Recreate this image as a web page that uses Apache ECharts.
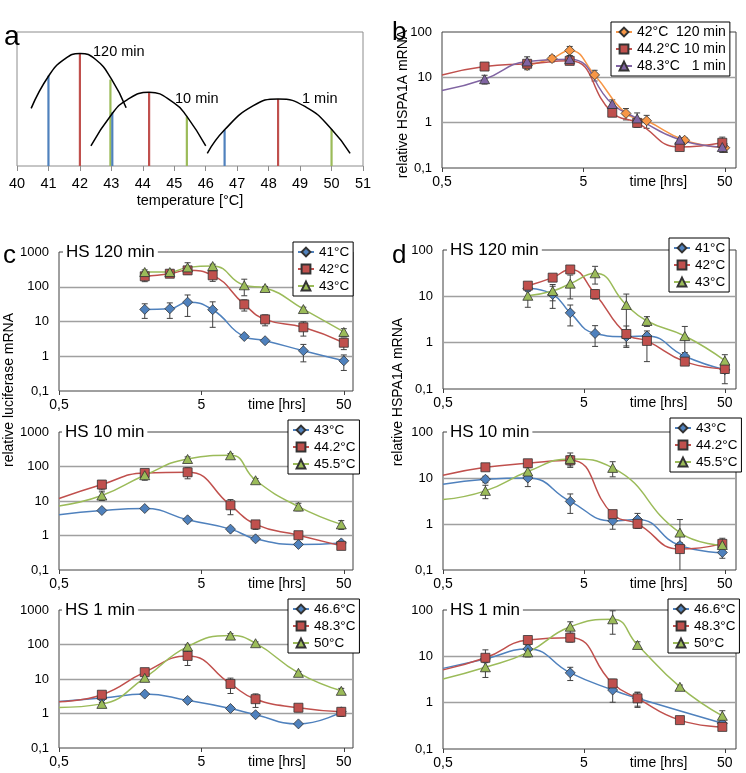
<!DOCTYPE html>
<html><head><meta charset="utf-8">
<script src="https://cdn.jsdelivr.net/npm/echarts@6/dist/echarts.min.js"></script>
<style>html,body{margin:0;padding:0;background:#fff}#c{width:746px;height:773px}</style>
</head><body><div id="c"></div>
<script>
// ---------- Panel a : schematic temperature curves ----------
const aCurve120X = [40.45, 41, 41.5, 42, 42.5, 43, 43.47];
const aCurve120Y = [0.43, 0.67, 0.795, 0.84, 0.795, 0.65, 0.435];
const aCurve10X = [42.35, 43, 43.5, 44.2, 45, 45.4, 46];
const aCurve10Y = [0.15, 0.383, 0.494, 0.55, 0.47, 0.37, 0.15];
const aCurve1X = [46.05, 46.6, 47.5, 48.3, 49.2, 50, 50.59];
const aCurve1Y = [0.095, 0.27, 0.448, 0.5, 0.438, 0.275, 0.095];
const aLineTemp = [41, 42, 42.97, 43.03, 44.2, 45.4, 46.6, 48.3, 50];
const aLineTop = [0.674, 0.84, 0.645, 0.40, 0.55, 0.37, 0.27, 0.5, 0.275];
const aLineKind = [0, 1, 2, 0, 1, 2, 0, 1, 2];
const aTicks = [40, 51];

// ---------- Time points (hours) ----------
const t120 = [2, 3, 4, 6, 10, 14, 26, 50];
const tShort = [1, 2, 4, 8, 12, 24, 48];
const tShortNo12 = [1, 2, 4, 8, 24, 48];
const tShortNo24 = [1, 2, 4, 8, 12, 48];
const xTickLabels = ['0,5', '5', '50', 'time [hrs]'];

// ---------- Panel b : HSPA1A ----------
const b42 = [18.2, 26, 39, 11.3, 1.6, 1.1, 0.41, 0.28];
const b42Err = [3.5, 4, 9, 3, 0.45, 0.35, 0.05, 0.06];
const b44 = [17.3, 19.9, 23.1, 1.66, 0.99, 0.29, 0.36];
const b44Err = [3, 3, 4, 0.3, 0.2, 0.03, 0.12];
const b48 = [9.1, 22.4, 25.2, 2.58, 1.24, 0.42, 0.29];
const b48Err = [2, 6, 5, 0.6, 0.4, 0.04, 0.07];
const bEdge = [11.3, 5.1];

// ---------- Panel c : luciferase ----------
const c41 = [22.3, 23.3, 36, 21.8, 3.7, 2.8, 1.44, 0.74];
const c41Err = [10, 11, 22, 15, 0.4, 0.3, 0.75, 0.35];
const c42 = [200, 237, 296, 213, 31, 11.5, 6.8, 2.45];
const c42Err = [60, 50, 65, 70, 11, 4, 3, 0.9];
const c43 = [265, 265, 361, 395, 110, 92, 22.8, 5.0];
const c43Err = [40, 40, 130, 50, 55, 10, 3, 1.2];

const c43m = [5.3, 6.05, 2.85, 1.53, 0.80, 0.55, 0.61];
const c43mErr = [0.5, 0.6, 0.3, 0.2, 0.1, 0.05, 0.05];
const c44m = [30, 65, 68, 7.5, 2.1, 1.02, 0.50];
const c44mErr = [9, 14, 24, 3.5, 0.6, 0.1, 0.05];
const c45m = [14.4, 56, 165, 211, 40, 6.9, 2.1];
const c45mErr = [4, 16, 25, 25, 5, 1.7, 0.6];
const cMidEdge = [4.0, 11.8, 7.2];

const c466 = [2.8, 3.65, 2.4, 1.40, 0.92, 0.50, 1.12];
const c466Err = [0.3, 0.3, 0.2, 0.15, 0.1, 0.05, 0.2];
const c483 = [3.5, 15.8, 46.6, 7.2, 2.6, 1.47, 1.12];
const c483Err = [0.7, 3, 22, 3.4, 1.1, 0.35, 0.3];
const c50 = [1.9, 10.8, 87, 181, 109, 15.1, 4.55];
const c50Err = [0.2, 2, 10, 25, 10, 1.5, 0.8];
const cBotEdge = [2.24, 2.2, 1.5];

// ---------- Panel d : HSPA1A ----------
const d41 = [14.9, 11.0, 4.4, 1.58, 1.35, 1.39, 0.51, 0.26];
const d41Err = [2, 5.5, 2.1, 0.75, 0.5, 0.2, 0.1, 0.13];
const d42 = [17, 25.3, 38, 11.2, 1.54, 1.09, 0.39, 0.27];
const d42Err = [2, 3, 5, 2.5, 0.75, 0.7, 0.05, 0.05];
const d43 = [10.3, 13, 18.8, 31.4, 6.5, 2.94, 1.39, 0.41];
const d43Err = [4.5, 5, 10, 13, 4.7, 0.7, 0.85, 0.14];

const d43m = [9.4, 10, 3.1, 1.17, 1.25, 0.34, 0.24];
const d43mErr = [1.5, 3.5, 1.4, 0.4, 0.45, 0.05, 0.06];
const d44m = [17.1, 20.9, 24.3, 1.64, 1.01, 0.285, 0.37];
const d44mErr = [2, 2, 6, 0.3, 0.15, 0.04, 0.12];
const d45m = [5.25, 13.8, 26, 16.6, 0.65, 0.35];
const d45mErr = [1.7, 3, 9, 6, 0.6, 0.05];
const dMidEdge = [7.3, 11.5, 3.4];

const d466 = [8.8, 14.4, 4.4, 1.87, 1.24, 0.36];
const d466Err = [1.5, 3, 1.4, 0.85, 0.45, 0.03];
const d483 = [9.3, 22.5, 25.3, 2.6, 1.24, 0.42, 0.30];
const d483Err = [4.5, 3, 5, 0.6, 0.4, 0.03, 0.03];
const d50 = [5.8, 12.2, 43.6, 63, 17.6, 2.2, 0.52];
const d50Err = [2.3, 2.5, 12, 33, 3, 0.2, 0.15];
const dBotEdge = [5.5, 5.1, 3.25];

// ---------- styles ----------
const COL = {blue: '#4F81BD', red: '#C0504D', green: '#9BBB59', orange: '#F79646', purple: '#8064A2'};
const FONT = 'Liberation Sans, Arial, sans-serif';
const TIME_POS = 1.53;

const grids = [], xAxes = [], yAxes = [], series = [], legends = [], graphics = [];

// Panel a
grids.push({left: 17, top: 32, width: 346, height: 134, show: true, borderColor: '#8c8c8c', borderWidth: 1});
xAxes.push({gridIndex: 0, type: 'value', min: aTicks[0], max: aTicks[1], interval: 1,
  axisLine: {show: false}, splitLine: {show: false},
  axisTick: {show: true, length: 5, lineStyle: {color: '#8c8c8c'}},
  axisLabel: {fontSize: 14.5, color: '#000', margin: 10},
  name: 'temperature [°C]', nameLocation: 'middle', nameGap: 27,
  nameTextStyle: {fontSize: 14.5, color: '#000'}});
yAxes.push({gridIndex: 0, type: 'value', min: 0, max: 1, show: false});
[[aCurve120X, aCurve120Y], [aCurve10X, aCurve10Y], [aCurve1X, aCurve1Y]].forEach(([xs, ys]) => {
  series.push({type: 'line', xAxisIndex: 0, yAxisIndex: 0, data: xs.map((x, i) => [x, ys[i]]),
    smooth: 0.5, symbol: 'none', lineStyle: {color: '#000', width: 1.5}, z: 3, silent: true});
});
series.push({type: 'custom', xAxisIndex: 0, yAxisIndex: 0, z: 2, silent: true,
  data: aLineTemp.map((x, i) => [x, aLineTop[i], aLineKind[i]]),
  renderItem: (p, api) => {
    const a = api.coord([api.value(0), 0]), b = api.coord([api.value(0), api.value(1)]);
    return {type: 'line', shape: {x1: a[0], y1: a[1], x2: b[0], y2: b[1]},
      style: {stroke: [COL.blue, COL.red, COL.green][api.value(2)], lineWidth: 2.2}};
  }});

function fmtX(v) {
  if (Math.abs(v) < 1e-6) return xTickLabels[0];
  if (Math.abs(v - 1) < 1e-6) return xTickLabels[1];
  if (Math.abs(v - 2) < 1e-6) return xTickLabels[2];
  return xTickLabels[3];
}
function fmtY(v) {
  const r = Math.round(v * 1000) / 1000;
  return String(r).replace('.', ',');
}

function logPanel(box, ymax, xmax) {
  const g = grids.length;
  grids.push({left: box[0], top: box[1], width: box[2], height: box[3], show: true, borderColor: '#404040', borderWidth: 1});
  const xi = xAxes.length;
  xAxes.push({gridIndex: g, type: 'log', logBase: 10, min: 0.5, max: xmax, position: 'top', show: false});
  xAxes.push({gridIndex: g, type: 'value', min: 0, max: Math.log10(xmax / 0.5), position: 'bottom',
    axisLine: {show: false}, splitLine: {show: false},
    axisTick: {show: true, length: 4, customValues: [0, 1, 2], lineStyle: {color: '#404040'}},
    axisLabel: {customValues: [0, 1, TIME_POS, 2], formatter: fmtX, fontSize: 14, color: '#000', margin: 7}});
  const yi = yAxes.length;
  yAxes.push({gridIndex: g, type: 'log', logBase: 10, min: 0.1, max: ymax,
    axisLine: {show: false}, axisTick: {show: false},
    splitLine: {show: true, showMinLine: false, showMaxLine: false, lineStyle: {color: '#a0a0a0', width: 1.3}},
    axisLabel: {fontSize: 13, color: '#000', margin: 10, formatter: fmtY}});
  return {xi, yi};
}

const SYM = {
  diamond: {symbol: 'diamond', size: 10},
  rect: {symbol: 'rect', size: 9},
  triangle: {symbol: 'triangle', size: [10, 9]}
};

function addSeries(name, ax, ts, vs, errs, color, sym, edge) {
  const data = ts.map((t, i) => [t, vs[i]]);
  if (edge != null) data.unshift({value: [0.5, edge], symbol: 'none'});
  series.push({type: 'line', name, xAxisIndex: ax.xi, yAxisIndex: ax.yi, data, smooth: 0.5,
    symbol: SYM[sym].symbol, symbolSize: SYM[sym].size, showAllSymbol: true,
    lineStyle: {color, width: 1.5}, itemStyle: {color, borderColor: '#333', borderWidth: 0.8},
    z: 3, silent: true});
  series.push({type: 'custom', xAxisIndex: ax.xi, yAxisIndex: ax.yi, z: 2, silent: true, clip: true,
    data: ts.map((t, i) => [t, vs[i], errs[i]]),
    renderItem: (p, api) => {
      const t = api.value(0), v = api.value(1), e = api.value(2);
      if (!e) return;
      const lo = Math.max(v - e, v * 0.05);
      const p1 = api.coord([t, v + e]), p2 = api.coord([t, lo]);
      const w = 3, st = {stroke: '#404040', lineWidth: 1};
      return {type: 'group', children: [
        {type: 'line', shape: {x1: p1[0], y1: p1[1], x2: p2[0], y2: p2[1]}, style: st},
        {type: 'line', shape: {x1: p1[0] - w, y1: p1[1], x2: p1[0] + w, y2: p1[1]}, style: st},
        {type: 'line', shape: {x1: p2[0] - w, y1: p2[1], x2: p2[0] + w, y2: p2[1]}, style: st}
      ]};
    }});
}

function addLegend(names, left, top, fs) {
  legends.push({orient: 'vertical', left, top, data: names, formatter: n => n.split('|')[1],
    itemWidth: 16, itemHeight: 11, itemGap: 3, padding: [3, 4], backgroundColor: '#fff',
    borderColor: '#000', borderWidth: 1, borderRadius: 0, selectedMode: false, z: 10,
    textStyle: {fontSize: fs || 13.5, color: '#000', fontFamily: FONT}});
}

// Panel b
let ax = logPanel([442, 32, 294, 136], 100, 60);
addSeries('b|42°C  120 min', ax, t120, b42, b42Err, COL.orange, 'diamond');
addSeries('b|44.2°C 10 min', ax, tShort, b44, b44Err, COL.red, 'rect', bEdge[0]);
addSeries('b|48.3°C   1 min', ax, tShort, b48, b48Err, COL.purple, 'triangle', bEdge[1]);
addLegend(['b|42°C  120 min', 'b|44.2°C 10 min', 'b|48.3°C   1 min'], 611, 22, 14);

// Panel c top
ax = logPanel([59, 252, 294, 139], 1000, 58);
addSeries('ct|41°C', ax, t120, c41, c41Err, COL.blue, 'diamond');
addSeries('ct|42°C', ax, t120, c42, c42Err, COL.red, 'rect');
addSeries('ct|43°C', ax, t120, c43, c43Err, COL.green, 'triangle');
addLegend(['ct|41°C', 'ct|42°C', 'ct|43°C'], 293, 242);

// Panel c middle
ax = logPanel([59, 432, 294, 138], 1000, 58);
addSeries('cm|43°C', ax, tShort, c43m, c43mErr, COL.blue, 'diamond', cMidEdge[0]);
addSeries('cm|44.2°C', ax, tShort, c44m, c44mErr, COL.red, 'rect', cMidEdge[1]);
addSeries('cm|45.5°C', ax, tShort, c45m, c45mErr, COL.green, 'triangle', cMidEdge[2]);
addLegend(['cm|43°C', 'cm|44.2°C', 'cm|45.5°C'], 288, 420);

// Panel c bottom
ax = logPanel([59, 610, 294, 138], 1000, 58);
addSeries('cb|46.6°C', ax, tShort, c466, c466Err, COL.blue, 'diamond', cBotEdge[0]);
addSeries('cb|48.3°C', ax, tShort, c483, c483Err, COL.red, 'rect', cBotEdge[1]);
addSeries('cb|50°C', ax, tShort, c50, c50Err, COL.green, 'triangle', cBotEdge[2]);
addLegend(['cb|46.6°C', 'cb|48.3°C', 'cb|50°C'], 288, 599);

// Panel d top
ax = logPanel([443, 250, 293, 139], 100, 60);
addSeries('dt|41°C', ax, t120, d41, d41Err, COL.blue, 'diamond');
addSeries('dt|42°C', ax, t120, d42, d42Err, COL.red, 'rect');
addSeries('dt|43°C', ax, t120, d43, d43Err, COL.green, 'triangle');
addLegend(['dt|41°C', 'dt|42°C', 'dt|43°C'], 669, 238);

// Panel d middle
ax = logPanel([443, 432, 293, 138], 100, 60);
addSeries('dm|43°C', ax, tShort, d43m, d43mErr, COL.blue, 'diamond', dMidEdge[0]);
addSeries('dm|44.2°C', ax, tShort, d44m, d44mErr, COL.red, 'rect', dMidEdge[1]);
addSeries('dm|45.5°C', ax, tShortNo12, d45m, d45mErr, COL.green, 'triangle', dMidEdge[2]);
addLegend(['dm|43°C', 'dm|44.2°C', 'dm|45.5°C'], 670, 418);

// Panel d bottom
ax = logPanel([443, 610, 293, 139], 100, 60);
addSeries('db|46.6°C', ax, tShortNo24, d466, d466Err, COL.blue, 'diamond', dBotEdge[0]);
addSeries('db|48.3°C', ax, tShort, d483, d483Err, COL.red, 'rect', dBotEdge[1]);
addSeries('db|50°C', ax, tShort, d50, d50Err, COL.green, 'triangle', dBotEdge[2]);
addLegend(['db|46.6°C', 'db|48.3°C', 'db|50°C'], 668, 599);

// ---------- texts ----------
function txt(text, x, y, size, opts) {
  opts = opts || {};
  graphics.push({type: 'text', x, y, z: 100, rotation: opts.rot || 0, silent: true,
    style: {text, fontSize: size, fontFamily: FONT, fill: '#000',
      align: opts.align || 'left', verticalAlign: opts.va || 'middle',
      backgroundColor: opts.bg, padding: opts.bg ? [0, 3] : 0}});
}
txt('a', 4, 23, 28, {va: 'alphabetic'});
txt('b', 392, 20, 26, {va: 'alphabetic'});
txt('c', 3, 243, 26, {va: 'alphabetic'});
txt('d', 392, 243, 26, {va: 'alphabetic'});
txt('120 min', 93, 52, 14.5);
txt('10 min', 175, 99, 14.5);
txt('1 min', 302, 99, 14.5);
txt('relative HSPA1A mRNA', 403, 104, 14, {align: 'center', rot: Math.PI / 2});
txt('relative luciferase mRNA', 9, 390, 14, {align: 'center', rot: Math.PI / 2});
txt('relative HSPA1A mRNA', 398, 392, 14, {align: 'center', rot: Math.PI / 2});
txt('HS 120 min', 63, 252, 17, {bg: '#fff'});
txt('HS 10 min', 62, 432, 17, {bg: '#fff'});
txt('HS 1 min', 62, 610, 17, {bg: '#fff'});
txt('HS 120 min', 447, 250, 17, {bg: '#fff'});
txt('HS 10 min', 447, 432, 17, {bg: '#fff'});
txt('HS 1 min', 447, 610, 17, {bg: '#fff'});

const chart = echarts.init(document.getElementById('c'), null, {renderer: 'canvas'});
chart.setOption({
  animation: false,
  textStyle: {fontFamily: FONT},
  grid: grids, xAxis: xAxes, yAxis: yAxes, series, legend: legends, graphic: graphics
});
</script></body></html>
